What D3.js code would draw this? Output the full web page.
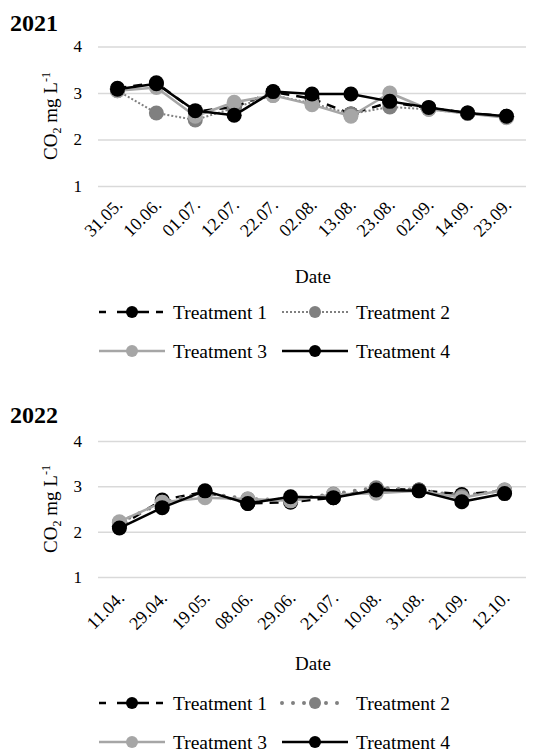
<!DOCTYPE html>
<html>
<head>
<meta charset="utf-8">
<script src="https://cdn.jsdelivr.net/npm/d3@7"></script>
<style>
  body { margin: 0; background: #fff; }
  svg { display: block; }
  text { font-family: "Liberation Serif", "DejaVu Serif", serif; fill: #000; }
</style>
</head>
<body>
<svg id="chart" width="538" height="753"></svg>
<script>
// ---- Data ----
const dates2021 = ["31.05.", "10.06.", "01.07.", "12.07.", "22.07.", "02.08.", "13.08.", "23.08.", "02.09.", "14.09.", "23.09."];
const t1_2021 = [3.10, 3.22, 2.60, 2.70, 3.02, 2.88, 2.55, 2.80, 2.68, 2.57, 2.50];
const t2_2021 = [3.05, 2.57, 2.42, 2.68, 2.95, 2.78, 2.55, 2.70, 2.65, 2.56, 2.48];
const t3_2021 = [3.05, 3.12, 2.50, 2.80, 2.95, 2.75, 2.50, 3.00, 2.65, 2.56, 2.47];
const t4_2021 = [3.08, 3.20, 2.62, 2.52, 3.03, 2.98, 2.98, 2.82, 2.69, 2.57, 2.50];

const dates2022 = ["11.04.", "29.04.", "19.05.", "08.06.", "29.06.", "21.07.", "10.08.", "31.08.", "21.09.", "12.10."];
const t1_2022 = [2.12, 2.70, 2.88, 2.62, 2.65, 2.75, 2.95, 2.92, 2.82, 2.90];
const t2_2022 = [2.20, 2.65, 2.85, 2.72, 2.70, 2.83, 2.97, 2.92, 2.78, 2.92];
const t3_2022 = [2.22, 2.65, 2.75, 2.72, 2.68, 2.82, 2.85, 2.90, 2.75, 2.92];
const t4_2022 = [2.08, 2.53, 2.90, 2.62, 2.77, 2.75, 2.92, 2.90, 2.66, 2.84];

const yTicks = [1, 2, 3, 4];
const seriesNames = ["Treatment 1", "Treatment 2", "Treatment 3", "Treatment 4"];

const svg = d3.select("#chart");
const SERIF = "Liberation Serif";

function drawChart(cfg) {
  const g = svg.append("g");
  const x = d3.scaleBand().domain(cfg.dates).range([98, 526]);
  const y = d3.scaleLinear().domain([1, 4]).range([cfg.y1, cfg.y4]);

  // title
  g.append("text").attr("x", 10).attr("y", cfg.titleY)
    .attr("font-family", SERIF)
    .attr("font-size", 24).attr("font-weight", "bold").text(cfg.title);

  // y axis with gridlines
  const ya = g.append("g").attr("transform", "translate(98,0)")
    .call(d3.axisLeft(y).tickValues(yTicks).tickSize(-428).tickPadding(16).tickFormat(d3.format("d")));
  ya.attr("font-family", SERIF);
  ya.select(".domain").remove();
  ya.selectAll(".tick line").attr("stroke", "#d9d9d9").attr("stroke-width", 1.5);
  ya.selectAll(".tick text").attr("font-size", 17).attr("font-family", SERIF).attr("fill", "#000");

  // y label
  const yl = g.append("text")
    .attr("transform", `translate(57,${cfg.yLabelY}) rotate(-90)`)
    .attr("font-family", SERIF)
    .attr("text-anchor", "middle").attr("font-size", 19);
  yl.append("tspan").text("CO");
  yl.append("tspan").attr("font-size", 12).attr("dy", 4).text("2");
  yl.append("tspan").attr("dy", -4).text(" mg L");
  yl.append("tspan").attr("font-size", 12).attr("dy", -7).text("-1");

  // x axis
  const xa = g.append("g").attr("transform", `translate(0,${cfg.xLabY})`)
    .call(d3.axisBottom(x).tickSize(0).tickPadding(0));
  xa.attr("font-family", SERIF);
  xa.select(".domain").remove();
  xa.selectAll(".tick text")
    .attr("font-size", 18).attr("font-family", SERIF).attr("fill", "#000")
    .attr("text-anchor", "end").attr("dy", 0)
    .attr("transform", "translate(6,0) rotate(-45)");

  g.append("text").attr("x", 313).attr("y", cfg.dateY).attr("text-anchor", "middle")
    .attr("font-family", SERIF)
    .attr("font-size", 19).text("Date");

  const cx = d => x(d) + x.bandwidth() / 2;
  const styles = [
    { color: "#000", marker: "#000", dash: "9,7", cap: "butt", w: 2.5 },
    { color: "#808080", marker: "#808080", dash: cfg.dotDash, cap: cfg.dotCap, w: cfg.dotW },
    { color: "#a6a6a6", marker: "#a6a6a6", dash: null, cap: "butt", w: 2.5 },
    { color: "#000", marker: "#000", dash: null, cap: "butt", w: 2.5 }
  ];
  const line = d3.line().x((d, i) => cx(cfg.dates[i])).y(d => y(d));

  cfg.series.forEach((vals, si) => {
    const s = styles[si];
    const sg = g.append("g");
    sg.append("path").datum(vals).attr("d", line).attr("fill", "none")
      .attr("stroke", s.color).attr("stroke-width", s.w)
      .attr("stroke-dasharray", s.dash).attr("stroke-linecap", s.cap)
      .attr("stroke-linejoin", "round");
    sg.selectAll("circle").data(vals).join("circle")
      .attr("cx", (d, i) => cx(cfg.dates[i])).attr("cy", d => y(d))
      .attr("r", 7.5).attr("fill", s.marker);
  });

  // legend
  const pos = [
    { x0: 99, y: cfg.legY1 }, { x0: 282, y: cfg.legY1 },
    { x0: 99, y: cfg.legY2 }, { x0: 282, y: cfg.legY2 }
  ];
  seriesNames.forEach((name, si) => {
    const s = styles[si];
    const p = pos[si];
    const lg = g.append("g");
    const len = si === 0 ? 64 : 66;
    lg.append("line").attr("x1", p.x0).attr("x2", p.x0 + len).attr("y1", p.y).attr("y2", p.y)
      .attr("stroke", s.color).attr("stroke-width", s.w)
      .attr("stroke-dasharray", si === 0 ? "7,11,32,7" : s.dash).attr("stroke-linecap", s.cap);
    lg.append("circle").attr("cx", p.x0 + 33).attr("cy", p.y).attr("r", 6).attr("fill", s.marker);
    lg.append("text").attr("x", p.x0 + 74).attr("y", p.y).attr("dy", "0.35em")
      .attr("font-family", SERIF)
      .attr("font-size", 19.5).text(name);
  });
}

drawChart({
  title: "2021", titleY: 31, dates: dates2021,
  series: [t1_2021, t2_2021, t3_2021, t4_2021],
  y1: 186, y4: 46.5, yLabelY: 116, xLabY: 206, dateY: 283,
  legY1: 312, legY2: 351, dotDash: "2,2", dotCap: "butt", dotW: 2
});

drawChart({
  title: "2022", titleY: 423, dates: dates2022,
  series: [t1_2022, t2_2022, t3_2022, t4_2022],
  y1: 577, y4: 441, yLabelY: 509, xLabY: 599, dateY: 670,
  legY1: 703, legY2: 742, dotDash: "0,11", dotCap: "round", dotW: 4
});
</script>
</body>
</html>
